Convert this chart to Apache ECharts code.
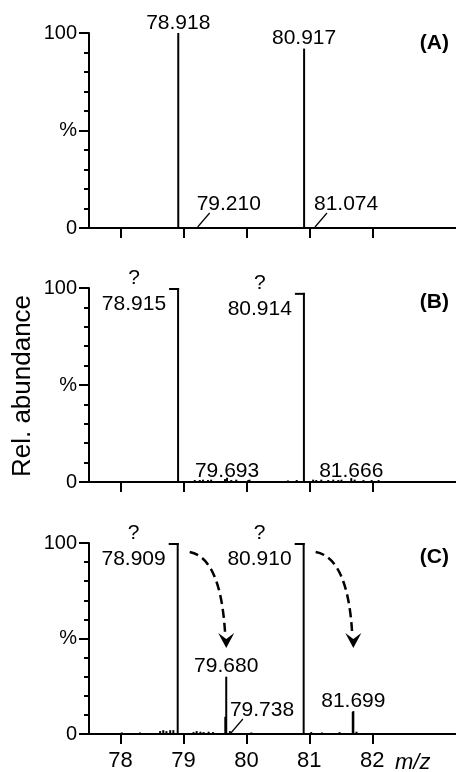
<!DOCTYPE html>
<html>
<head>
<meta charset="utf-8">
<script src="https://cdn.jsdelivr.net/npm/echarts@6/dist/echarts.min.js"></script>
<style>
html, body { margin: 0; padding: 0; background: #fff; }
#main { width: 456px; height: 772px; }
</style>
</head>
<body>
<div id="main"></div>
<script>
"use strict";

var FONT = '"Liberation Sans", Arial, sans-serif';
var xTicks = [78, 79, 80, 81, 82];

// (A)
var mzA = [78.918, 79.210, 80.917, 81.074];
var intA = [100, 0.5, 92, 0.5];
var topLabA = [78.918, 80.917];
var leadLabA = [79.210, 81.074];

// (B) - includes baseline noise
var mzB = [78.915, 79.18, 79.26, 79.31, 79.39, 79.44, 79.66, 79.693, 79.76, 79.84, 80.03, 80.05,
    80.66, 80.80, 80.914, 81.06, 81.11, 81.19, 81.30, 81.38, 81.46, 81.51, 81.666, 81.72, 81.86, 81.99, 82.10];
var intB = [100, 1, 1, 1.2, 1, 1.2, 1.5, 2.2, 1, 1.2, 1, 1.2,
    0.8, 1, 97.5, 1.2, 1, 1.2, 1, 1.2, 1, 1.2, 2, 1.2, 1, 1, 1];
var satB = [78.915, 80.914];
var baseLabB = [79.693, 81.666];

// (C)
var mzC = [78.02, 78.31, 78.63, 78.68, 78.73, 78.79, 78.84, 78.909, 79.16, 79.21, 79.27, 79.32, 79.40, 79.47,
    79.665, 79.680, 79.738, 80.08, 80.910, 81.03, 81.20, 81.48, 81.690, 81.699, 81.75];
var intC = [0.8, 0.8, 1.5, 2, 1.5, 2, 2, 100, 1, 1.5, 1.2, 1, 1.2, 1,
    9, 30, 1.5, 0.8, 100, 1, 0.8, 1, 11.5, 12, 1.2];
var satC = [78.909, 80.910];
var topLabC = [79.680, 81.699];
var leadLabC = [79.738];
var arrowsC = [[78.909, 79.680], [80.910, 81.699]];

function intOf(mzs, ints, m) {
    return ints[mzs.indexOf(m)];
}

function txt(x, y, s, align, font) {
    return {
        type: 'text', x: x, y: y,
        style: {text: s, fill: '#000', font: font || ('21px ' + FONT), align: align || 'center', verticalAlign: 'middle'}
    };
}

function sticks(params, api) {
    var p = api.coord([api.value(0), api.value(1)]);
    var b = api.coord([api.value(0), 0]);
    return {type: 'line', shape: {x1: p[0], y1: b[1], x2: p[0], y2: p[1]}, style: {stroke: '#000', lineWidth: 2}};
}

function topLabel(params, api) {
    var p = api.coord([api.value(0), api.value(1)]);
    return txt(p[0], p[1] - 10, api.value(0).toFixed(3));
}

function leaderLabel(params, api) {
    var b = api.coord([api.value(0), 0]);
    return {
        type: 'group', children: [
            {type: 'line', shape: {x1: b[0] + 1, y1: b[1] - 1, x2: b[0] + 13, y2: b[1] - 15}, style: {stroke: '#000', lineWidth: 1.2}},
            txt(b[0], b[1] - 24, api.value(0).toFixed(3), 'left')
        ]
    };
}

function baseLabel(params, api) {
    var b = api.coord([api.value(0), 0]);
    return txt(b[0], b[1] - 11, api.value(0).toFixed(3));
}

function satLabel(params, api) {
    var p = api.coord([api.value(0), api.value(1)]);
    return {
        type: 'group', children: [
            {type: 'line', shape: {x1: p[0] - 9, y1: p[1] + 1, x2: p[0] + 1, y2: p[1] + 1}, style: {stroke: '#000', lineWidth: 2}},
            txt(p[0] - 44, p[1] - 10, '?'),
            txt(p[0] - 12, p[1] + 16, api.value(0).toFixed(3), 'right')
        ]
    };
}

function arrow(params, api) {
    var s = api.coord([api.value(0), api.value(1)]);
    var t = api.coord([api.value(2), 45]);
    var sx = s[0] + 12, sy = s[1] + 9;
    var ex = t[0] - 1, ey = t[1] - 12;
    return {
        type: 'group', children: [
            {type: 'bezierCurve', shape: {x1: sx, y1: sy, x2: ex, y2: ey, cpx1: ex - 4, cpy1: sy + 6},
                style: {stroke: '#000', lineWidth: 2.5, lineDash: [9, 5], fill: 'none'}},
            {type: 'polygon', shape: {points: [[t[0], t[1]], [t[0] - 8, t[1] - 15], [t[0], t[1] - 9], [t[0] + 8, t[1] - 15]]},
                style: {fill: '#000'}}
        ]
    };
}

function pairs(mzs, ints, list) {
    return list.map(function (m) { return [m, intOf(mzs, ints, m)]; });
}

var grids = [
    {left: 89, right: 0, top: 33, height: 195},
    {left: 89, right: 0, top: 288, height: 194},
    {left: 89, right: 0, top: 543, height: 195}
];

var xAxes = grids.map(function (g, i) {
    return {
        type: 'value', gridIndex: i, min: 77.5, max: 83.33,
        axisLine: {lineStyle: {color: '#000', width: 2}},
        axisTick: {customValues: xTicks, length: 10, lineStyle: {color: '#000', width: 2}},
        axisLabel: {show: i === 2, customValues: xTicks, color: '#000', fontSize: 22, fontFamily: FONT, margin: 16},
        splitLine: {show: false}
    };
});

var yAxes = grids.map(function (g, i) {
    return {
        type: 'value', gridIndex: i, min: 0, max: 100, interval: 50,
        axisLine: {show: true, lineStyle: {color: '#000', width: 2}},
        axisTick: {length: 10, lineStyle: {color: '#000', width: 2}},
        minorTick: {show: true, splitNumber: 5, length: 5, lineStyle: {color: '#000', width: 2}},
        axisLabel: {
            color: '#000', fontSize: 20, fontFamily: FONT, margin: 12,
            formatter: function (v) { return v === 50 ? '%' : String(v); }
        },
        splitLine: {show: false}
    };
});

function custom(i, data, fn) {
    return {type: 'custom', xAxisIndex: i, yAxisIndex: i, data: data, renderItem: fn, silent: true};
}

var chart = echarts.init(document.getElementById('main'), null, {renderer: 'canvas'});
chart.setOption({
    animation: false,
    grid: grids,
    xAxis: xAxes,
    yAxis: yAxes,
    graphic: [
        txt(449, 43, '(A)', 'right', 'bold 21px ' + FONT),
        txt(449, 302, '(B)', 'right', 'bold 21px ' + FONT),
        txt(449, 557, '(C)', 'right', 'bold 21px ' + FONT),
        {type: 'text', x: 23, y: 386, rotation: Math.PI / 2,
            style: {text: 'Rel. abundance', fill: '#000', font: '26px ' + FONT, align: 'center', verticalAlign: 'middle'}},
        {type: 'text', x: 395, y: 763,
            style: {text: 'm/z', fill: '#000', font: 'italic 22px ' + FONT, align: 'left', verticalAlign: 'middle'}}
    ],
    series: [
        custom(0, mzA.map(function (m, k) { return [m, intA[k]]; }), sticks),
        custom(0, pairs(mzA, intA, topLabA), topLabel),
        custom(0, pairs(mzA, intA, leadLabA), leaderLabel),

        custom(1, mzB.map(function (m, k) { return [m, intB[k]]; }), sticks),
        custom(1, pairs(mzB, intB, satB), satLabel),
        custom(1, pairs(mzB, intB, baseLabB), baseLabel),

        custom(2, mzC.map(function (m, k) { return [m, intC[k]]; }), sticks),
        custom(2, pairs(mzC, intC, satC), satLabel),
        custom(2, pairs(mzC, intC, topLabC), topLabel),
        custom(2, pairs(mzC, intC, leadLabC), leaderLabel),
        custom(2, arrowsC.map(function (a) { return [a[0], intOf(mzC, intC, a[0]), a[1]]; }), arrow)
    ]
});
</script>
</body>
</html>
